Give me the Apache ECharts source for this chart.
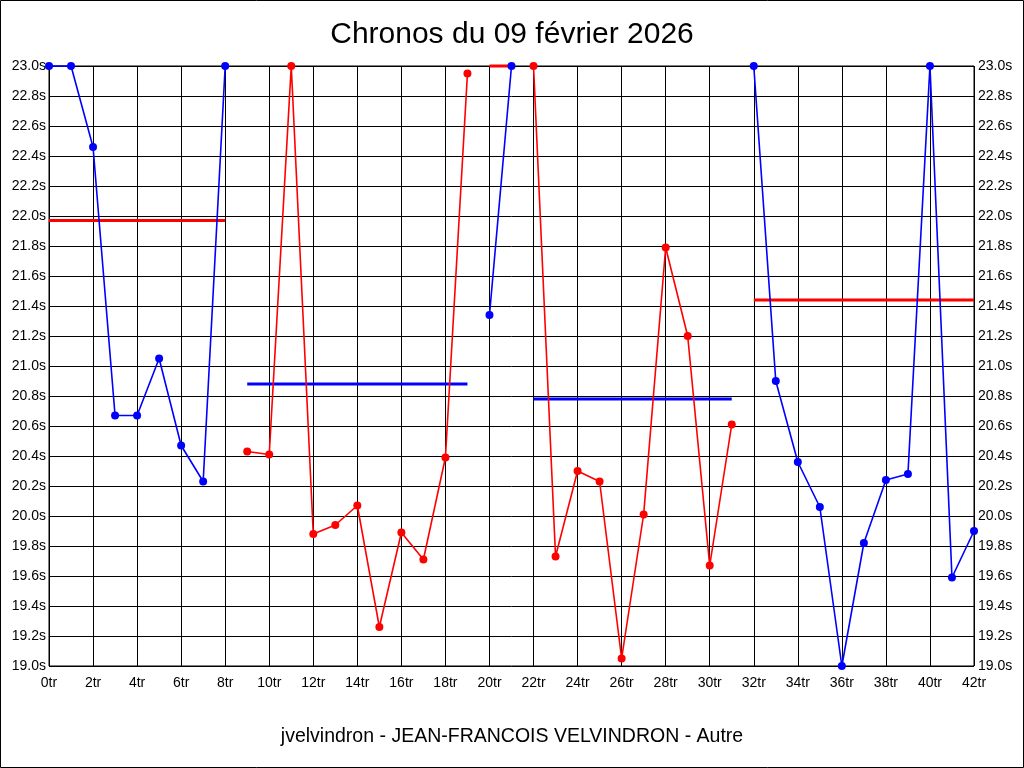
<!DOCTYPE html>
<html>
<head>
<meta charset="utf-8">
<script src="https://cdn.jsdelivr.net/npm/echarts@6/dist/echarts.min.js"></script>
<style>
html,body{margin:0;padding:0;background:#fff;}
#chart{width:1024px;height:768px;}
</style>
</head>
<body>
<div id="chart"></div>
<script>
// Segment values (seconds), each segment starts at the lap given in segmentStarts
const blue1 = [23.0, 23.0, 22.46, 20.67, 20.67, 21.05, 20.47, 20.23, 23.0];
const red1 = [20.43, 20.41, 23.0, 19.88, 19.94, 20.07, 19.26, 19.89, 19.71, 20.39, 22.95];
const blue2 = [21.34, 23.0];
const red2 = [23.0, 19.73, 20.30, 20.23, 19.05, 20.01, 21.79, 21.20, 19.67, 20.61];
const blue3 = [23.0, 20.90, 20.36, 20.06, 19.00, 19.82, 20.24, 20.28, 23.0, 19.59, 19.90];
const segments = [blue1, red1, blue2, red2, blue3];
const segmentColors = ['blue', 'red', 'blue', 'red', 'blue'];
const segmentStarts = [0, 9, 20, 22, 32];
const segmentAverages = [21.97, 20.88, 23.0, 20.78, 21.44];
const averageColors = ['red', 'blue', 'red', 'blue', 'red'];
const titleText = 'Chronos du 09 février 2026';
const footerText = 'jvelvindron - JEAN-FRANCOIS VELVINDRON - Autre';
const xMin = 0, xMax = 42, xStep = 2;
const yMin = 19.0, yMax = 23.0, yStep = 0.2;

const colorMap = { blue: '#0000FF', red: '#FF0000' };
const FONT = '"Liberation Sans", Arial, sans-serif';

const series = [];
segments.forEach((vals, i) => {
  const start = segmentStarts[i];
  const data = vals.map((v, k) => [start + k, v]);
  series.push({
    type: 'line',
    data: data,
    xAxisIndex: 0, yAxisIndex: 0,
    symbol: 'circle', symbolSize: 8,
    clip: false,
    animation: false,
    lineStyle: { color: colorMap[segmentColors[i]], width: 1.6 },
    itemStyle: { color: colorMap[segmentColors[i]] },
    z: 3
  });
  const end = start + vals.length - 1;
  series.push({
    type: 'line',
    data: [[start, segmentAverages[i]], [end, segmentAverages[i]]],
    xAxisIndex: 0, yAxisIndex: 0,
    symbol: 'none',
    clip: false,
    animation: false,
    lineStyle: { color: colorMap[averageColors[i]], width: 3 },
    z: 2
  });
});

const axisLabelStyle = { color: '#000', fontFamily: FONT, fontSize: 14 };

const chart = echarts.init(document.getElementById('chart'), null, { renderer: 'canvas' });
chart.setOption({
  backgroundColor: '#fff',
  animation: false,
  title: [
    { text: titleText, left: 'center', top: 15,
      textStyle: { color: '#000', fontFamily: FONT, fontSize: 30, fontWeight: 'normal' } },
    { text: footerText, left: 'center', top: 722,
      textStyle: { color: '#000', fontFamily: FONT, fontSize: 19.5, fontWeight: 'normal' } }
  ],
  grid: { left: 49, right: 50, top: 66, bottom: 102, show: true, borderColor: '#000', borderWidth: 1, backgroundColor: 'transparent' },
  xAxis: {
    type: 'value', min: xMin, max: xMax, interval: xStep,
    axisLine: { show: false }, axisTick: { show: false },
    splitLine: { show: true, lineStyle: { color: '#000', width: 1 } },
    axisLabel: Object.assign({ formatter: v => v + 'tr', margin: 10 }, axisLabelStyle)
  },
  yAxis: [
    {
      type: 'value', min: yMin, max: yMax, interval: yStep, position: 'left',
      axisLine: { show: false }, axisTick: { show: false },
      splitLine: { show: true, lineStyle: { color: '#000', width: 1 } },
      axisLabel: Object.assign({ formatter: v => v.toFixed(1) + 's', margin: 3 }, axisLabelStyle)
    },
    {
      type: 'value', min: yMin, max: yMax, interval: yStep, position: 'right',
      axisLine: { show: false }, axisTick: { show: false },
      splitLine: { show: false },
      axisLabel: Object.assign({ formatter: v => v.toFixed(1) + 's', margin: 4 }, axisLabelStyle)
    }
  ],
  graphic: [
    { type: 'rect', shape: { x: 0.5, y: 0.5, width: 1023, height: 767 },
      style: { fill: 'none', stroke: '#000', lineWidth: 1 }, z: 100 }
  ],
  series: series
});
</script>
</body>
</html>
